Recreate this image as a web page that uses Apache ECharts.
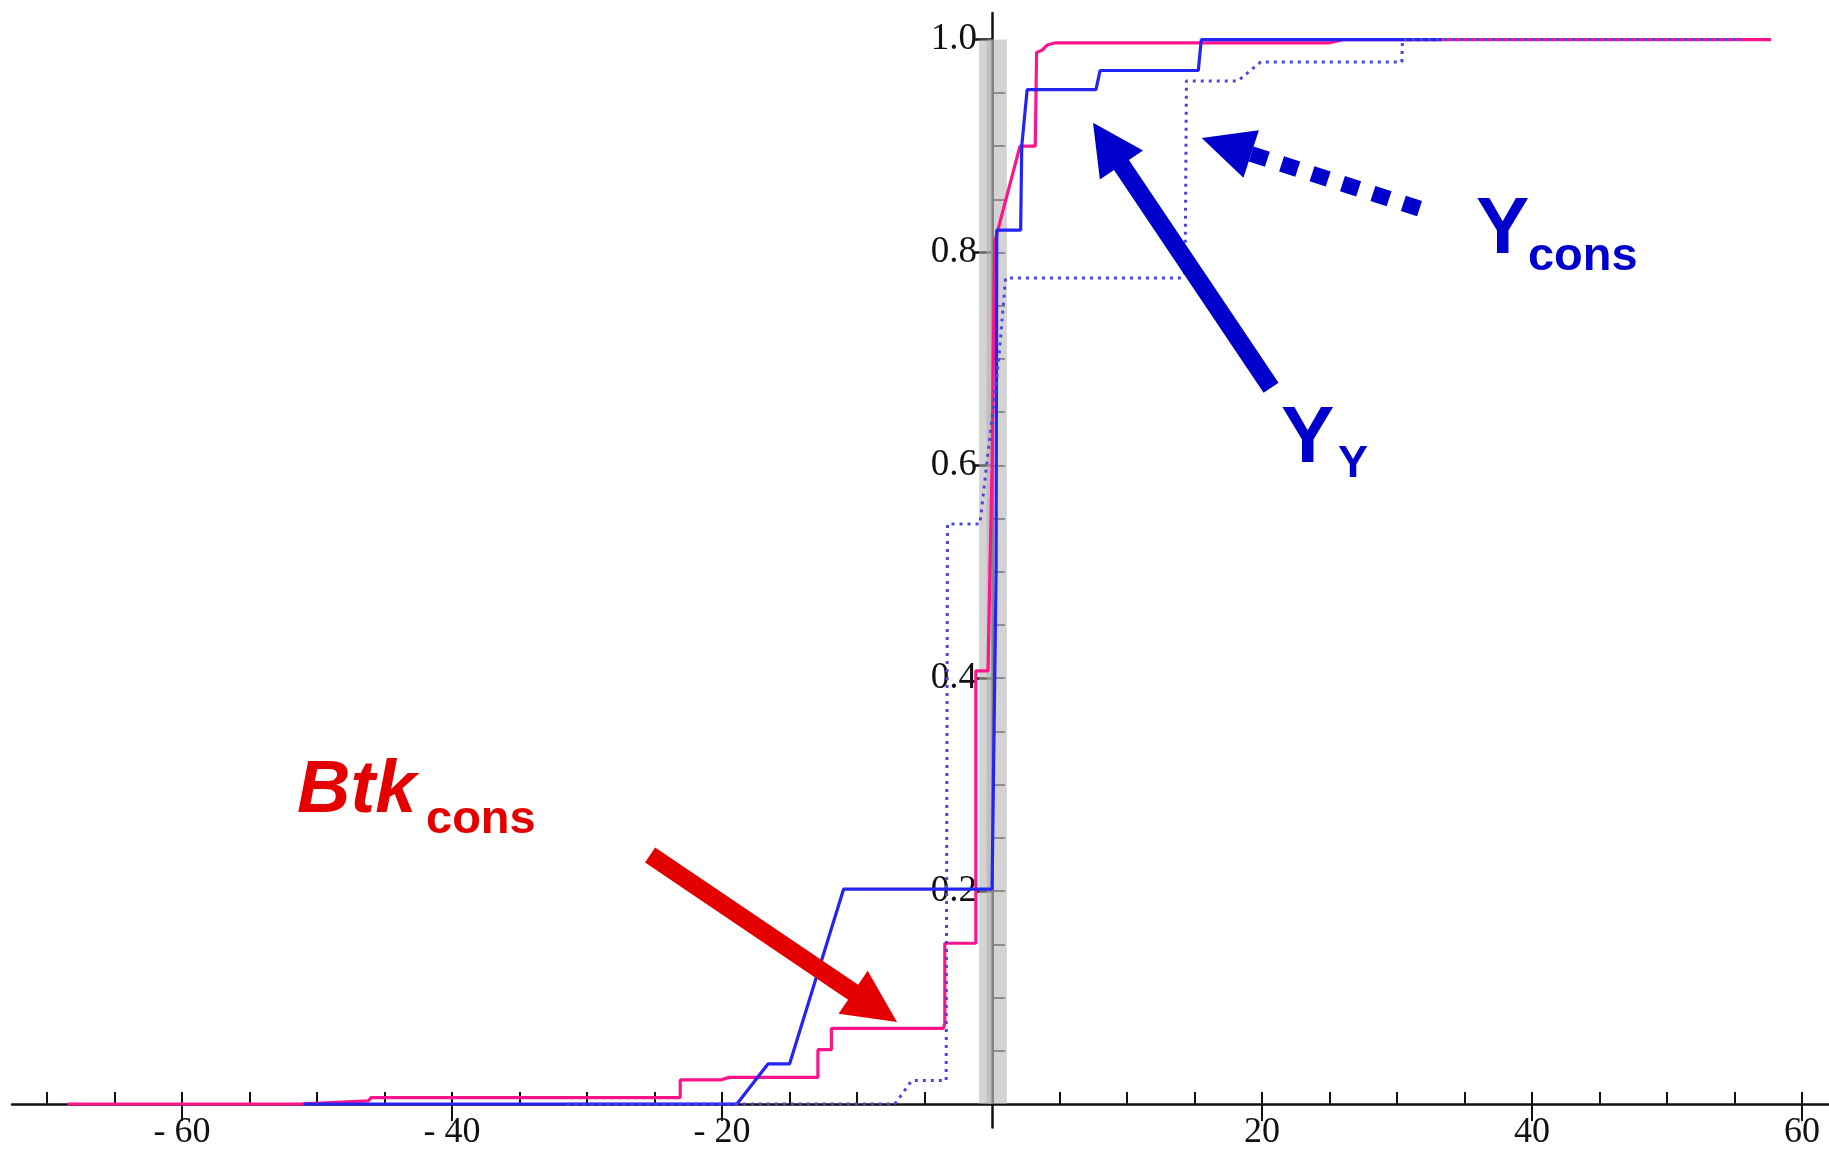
<!DOCTYPE html>
<html><head><meta charset="utf-8">
<script src="https://cdn.jsdelivr.net/npm/echarts@6/dist/echarts.min.js"></script>
<style>html,body{margin:0;padding:0;background:#fff}#c{width:1829px;height:1149px}</style>
</head><body><div id="c"></div>
<script>
// ---- data (x, cumulative fraction) ----
const btkCons = [[-68.5,0],[-51.3,0],[-46.2,0.003],[-46,0.006],[-23.1,0.006],[-23.1,0.0226],[-20.1,0.0226],[-19.5,0.025],[-12.9,0.025],[-12.9,0.051],[-11.9,0.051],[-11.9,0.071],[-3.6,0.071],[-3.5,0.076],[-3.5,0.151],[-1.2,0.151],[-1.2,0.407],[-0.3,0.407],[0,0.6],[0.2,0.81],[2.07,0.90],[3.2,0.90],[3.3,0.988],[3.7,0.99],[4.1,0.995],[4.7,0.997],[25,0.997],[26,1.0],[57.7,1.0]];
const yY = [[-51,0],[-18.9,0],[-16.6,0.0376],[-15.0,0.0376],[-11.0,0.2018],[0,0.2018],[0.3,0.5],[0.35,0.821],[2.12,0.821],[2.2,0.9],[2.6,0.953],[7.7,0.953],[8.0,0.971],[15.28,0.971],[15.5,1.0],[33.3,1.0]];
const yCons = [[-31.5,0],[-7.2,0],[-5.95,0.022],[-3.4,0.022],[-3.3,0.545],[-0.9,0.545],[0.5,0.7],[1.0,0.776],[14.05,0.776],[14.3,0.781],[14.4,0.961],[18.2,0.961],[19.9,0.979],[30.36,0.979],[30.4,1.0],[55.5,1.0]];

const xMinorTicks = [-70,-65,-60,-55,-50,-45,-40,-35,-30,-25,-20,-15,-10,-5,5,10,15,20,25,30,35,40,45,50,55,60];
const xMajorTicks = [-60,-40,-20,20,40,60];
const xLabels = [-60,-40,-20,20,40,60];
const yMinorTicks = [0.05,0.1,0.15,0.2,0.25,0.3,0.35,0.4,0.45,0.5,0.55,0.6,0.65,0.7,0.75,0.8,0.85,0.9,0.95];
const yMajorTicks = [0.2,0.4,0.6,0.8,1.0];
const yLabels = [0.2,0.4,0.6,0.8,1.0];

// annotations (data coordinates; text anchors are baselines)
const annBtkArrow = {tail:[-25.33,0.234], tip:[-7.04,0.0771]};
const annYYArrow = {tail:[20.67,0.673], tip:[7.48,0.922]};
const annYconsArrow = {tail:[32.59,0.8374], tip:[15.53,0.9076]};
const annBtkText = {main:[-51.48,0.2735], sub:[-41.93,0.2538]};
const annYYText = {main:[21.41,0.6024], sub:[25.63,0.5883]};
const annYconsText = {main:[35.85,0.7989], sub:[39.70,0.7829]};

const PINK = '#ff148c', BLUE = '#2424f5', DOT = '#4848dc', RED = '#e50000', DBLUE = '#0000cc';
const serif = '"Liberation Serif","Times New Roman",serif';
const sans = '"Liberation Sans",Arial,sans-serif';

const chart = echarts.init(document.getElementById('c'), null, {renderer:'canvas'});
const xMin = -72.6, xMax = 62, yMin = -0.022, yMax = 1.025;
const G = {left:12, right:0, top:13, bottom:21.6};
const W = 1829, H = 1149;
const gridW = W - G.left - G.right, gridH = H - G.top - G.bottom;
const zeroUp = (0 - yMin) / (yMax - yMin) * gridH;     // x=0 line above grid bottom
const zeroRight = (0 - xMin) / (xMax - xMin) * gridW;  // y=0 line right of grid left

const option = {
  animation:false,
  backgroundColor:'#fff',
  grid:{left:G.left, right:G.right, top:G.top, bottom:G.bottom, containLabel:false, outerBoundsMode:'none'},
  xAxis:[
    {type:'value', min:xMin, max:xMax, splitLine:{show:false},
     axisLine:{show:true, onZero:true, onZeroAxisIndex:0, lineStyle:{color:'#111', width:2.5}},
     axisTick:{show:true, inside:true, length:12, customValues:xMinorTicks, lineStyle:{color:'#111', width:2}},
     axisLabel:{show:false}},
    {type:'value', min:xMin, max:xMax, splitLine:{show:false},
     axisLine:{show:false, onZero:true, onZeroAxisIndex:1},
     axisTick:{show:true, inside:true, length:17, customValues:xMajorTicks, lineStyle:{color:'#111', width:2}},
     axisLabel:{show:false}},
    {type:'value', min:xMin, max:xMax, splitLine:{show:false}, position:'bottom', offset:-zeroUp,
     axisLine:{show:false, onZero:false}, axisTick:{show:false},
     axisLabel:{show:true, customValues:xLabels, margin:11, color:'#111', fontFamily:serif, fontSize:36,
       formatter:v => v < 0 ? '- ' + Math.abs(v) : String(v)}}
  ],
  yAxis:[
    {type:'value', min:yMin, max:yMax, splitLine:{show:false},
     axisLine:{show:true, onZero:true, onZeroAxisIndex:0, lineStyle:{color:'#111', width:2.5}},
     axisTick:{show:true, inside:true, length:13, customValues:yMinorTicks, lineStyle:{color:'#333', width:1.5}},
     axisLabel:{show:false}},
    {type:'value', min:yMin, max:yMax, splitLine:{show:false},
     axisLine:{show:false, onZero:true, onZeroAxisIndex:1},
     axisTick:{show:true, inside:true, length:17, customValues:yMajorTicks, lineStyle:{color:'#111', width:2.5}},
     axisLabel:{show:false}},
    {type:'value', min:yMin, max:yMax, splitLine:{show:false}, position:'left', offset:-zeroRight,
     axisLine:{show:false, onZero:false}, axisTick:{show:false},
     axisLabel:{show:true, customValues:yLabels, margin:15, color:'#111', fontFamily:serif, fontSize:37,
       padding:[0,0,18,0], formatter:v => v.toFixed(1)}}
  ],
  series:[
    {name:'Btk cons', type:'line', data:btkCons, showSymbol:false, symbol:'none', z:3,
     lineStyle:{color:PINK, width:3.2},
     markArea:{silent:true, itemStyle:{color:'rgba(175,175,175,0.55)'},
       data:[[{xAxis:-0.96, yAxis:0},{xAxis:1.1, yAxis:1.0}],
             [{xAxis:-0.4, yAxis:0},{xAxis:0.05, yAxis:1.0}]]}},
    {name:'Y Y', type:'line', data:yY, showSymbol:false, symbol:'none', z:4,
     lineStyle:{color:BLUE, width:3.2}},
    {name:'Y cons', type:'line', data:yCons, showSymbol:false, symbol:'none', z:5,
     lineStyle:{color:DOT, width:3, type:[3,5]}}
  ]
};
chart.setOption(option);

function px(p){ return chart.convertToPixel({xAxisIndex:0, yAxisIndex:0}, p); }
function arrowShape(tail, tip, headLen, headHalf, shaftHalf){
  const dx=tip[0]-tail[0], dy=tip[1]-tail[1], L=Math.hypot(dx,dy);
  const ux=dx/L, uy=dy/L, nx=-uy, ny=ux;
  const bx=tip[0]-ux*headLen, by=tip[1]-uy*headLen;
  return {base:[bx,by], poly:[
    [tail[0]+nx*shaftHalf, tail[1]+ny*shaftHalf],[bx+nx*shaftHalf, by+ny*shaftHalf],
    [bx+nx*headHalf, by+ny*headHalf], tip, [bx-nx*headHalf, by-ny*headHalf],
    [bx-nx*shaftHalf, by-ny*shaftHalf],[tail[0]-nx*shaftHalf, tail[1]-ny*shaftHalf]]};
}
function headOnly(tail, tip, headLen, headHalf){
  const dx=tip[0]-tail[0], dy=tip[1]-tail[1], L=Math.hypot(dx,dy);
  const ux=dx/L, uy=dy/L, nx=-uy, ny=ux;
  const bx=tip[0]-ux*headLen, by=tip[1]-uy*headLen;
  return {base:[bx,by], poly:[[bx+nx*headHalf, by+ny*headHalf], tip, [bx-nx*headHalf, by-ny*headHalf]]};
}
function txt(pos, text, size, color, italic){
  const p = px(pos);
  return {type:'text', z:100, style:{text:text, x:p[0], y:p[1] + 0.21*size, fill:color,
    font:(italic?'italic ':'')+'bold '+size+'px '+sans, verticalAlign:'bottom'}};
}
const g = [];
{
  const a = arrowShape(px(annBtkArrow.tail), px(annBtkArrow.tip), 53, 26, 9);
  g.push({type:'polygon', z:90, shape:{points:a.poly}, style:{fill:RED}});
}
{
  const a = arrowShape(px(annYYArrow.tail), px(annYYArrow.tip), 51, 26, 9);
  g.push({type:'polygon', z:90, shape:{points:a.poly}, style:{fill:DBLUE}});
}
{
  const tail = px(annYconsArrow.tail), tip = px(annYconsArrow.tip);
  const h = headOnly(tail, tip, 52, 25);
  g.push({type:'polygon', z:90, shape:{points:h.poly}, style:{fill:DBLUE}});
  g.push({type:'line', z:90, shape:{x1:h.base[0], y1:h.base[1], x2:tail[0], y2:tail[1]},
    style:{stroke:DBLUE, lineWidth:16, lineDash:[17,15], lineCap:'butt'}});
}
g.push(txt(annBtkText.main, 'Btk', 74, RED, true));
g.push(txt(annBtkText.sub, 'cons', 47, RED, false));
g.push(txt(annYYText.main, 'Y', 80, DBLUE, false));
g.push(txt(annYYText.sub, 'Y', 45, DBLUE, false));
g.push(txt(annYconsText.main, 'Y', 80, DBLUE, false));
g.push(txt(annYconsText.sub, 'cons', 47, DBLUE, false));
chart.setOption({graphic:g});
</script></body></html>
